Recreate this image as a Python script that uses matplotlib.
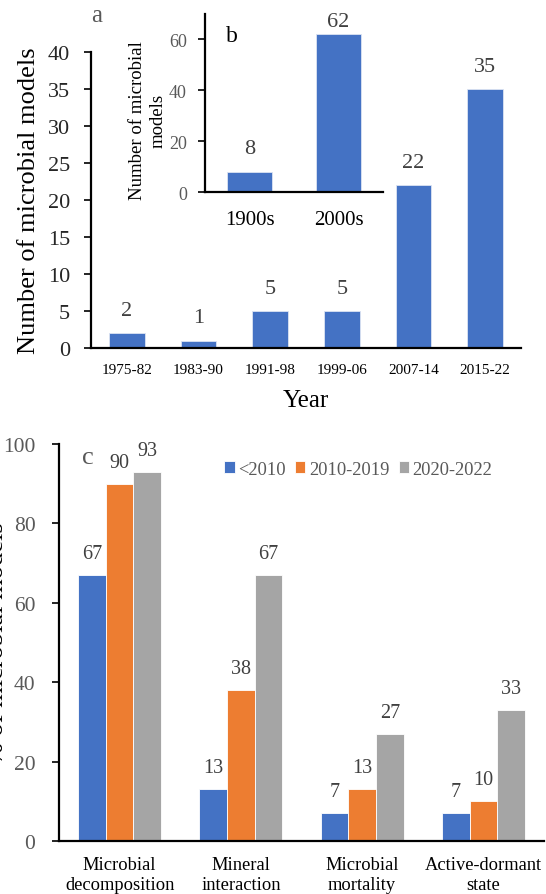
import matplotlib
matplotlib.use("Agg")
import matplotlib.pyplot as plt
import numpy as np

plt.rcParams["font.family"] = ["Liberation Serif", "DejaVu Serif"]

# Panel a: models per period
periods = ["1975-82", "1983-90", "1991-98", "1999-06", "2007-14", "2015-22"]
period_counts = [2, 1, 5, 5, 22, 35]

# Panel b: models per century
centuries = ["1900s", "2000s"]
century_counts = [8, 62]

# Panel c: share of models representing each process
processes = ["Microbial\ndecomposition", "Mineral\ninteraction",
             "Microbial\nmortality", "Active-dormant\nstate"]
eras = ["<2010", "2010-2019", "2020-2022"]
share_pre2010 = [67, 13, 7, 7]
share_2010s = [90, 38, 13, 10]
share_2020s = [93, 67, 27, 33]

BLUE = "#4472C4"
ORANGE = "#ED7D31"
GREY = "#A5A5A5"
LABEL_GREY = "#404040"
TICK_GREY = "#595959"

W, H = 546, 895
fig = plt.figure(figsize=(W / 100, H / 100), dpi=100)


def px_axes(left, top, right, bottom):
    return fig.add_axes([left / W, 1 - bottom / H, (right - left) / W, (bottom - top) / H])


def style_axes(ax, lw=1.6):
    for s in ("top", "right"):
        ax.spines[s].set_visible(False)
    for s in ("left", "bottom"):
        ax.spines[s].set_linewidth(lw)
        ax.spines[s].set_color("black")


# ---- panel a ----
ax = px_axes(91, 53, 521, 349)
style_axes(ax)
x = np.arange(len(periods))
ax.bar(x, period_counts, width=0.5, color=BLUE, edgecolor="#dce4f2", linewidth=0.6)
ax.set_xlim(-0.5, len(periods) - 0.5)
ax.set_ylim(0, 40)
ax.set_yticks(range(0, 41, 5))
ax.tick_params(axis="y", direction="out", length=5, width=1.2, pad=10, labelsize=16, labelcolor="#262626")
ax.set_xticks(x)
ax.set_xticklabels(periods)
ax.tick_params(axis="x", length=0, pad=11, labelsize=11)
for xi, v in zip(x, period_counts):
    ax.annotate(str(v), (xi, v), xytext=(0, 16.5), textcoords="offset points",
                ha="center", va="center", fontsize=16, color=LABEL_GREY)
ax.set_ylabel("Number of microbial models", fontsize=19, labelpad=6)
ax.set_xlabel("Year", fontsize=18, labelpad=9)
fig.text(97 / W, 1 - 16 / H, "a", fontsize=18, color=TICK_GREY, ha="center", va="center")

# ---- panel b (inset) ----
axb = px_axes(205, 15, 383, 193)
style_axes(axb)
xb = np.arange(len(centuries))
axb.bar(xb, century_counts, width=0.5, color=BLUE, edgecolor="#dce4f2", linewidth=0.6)
axb.set_xlim(-0.5, len(centuries) - 0.5)
axb.set_ylim(0, 70)
axb.set_yticks(range(0, 61, 20))
axb.tick_params(axis="y", direction="out", length=5, width=1.2, pad=8, labelsize=13, labelcolor=TICK_GREY)
axb.set_xticks(xb)
axb.set_xticklabels(centuries)
axb.tick_params(axis="x", length=0, pad=13, labelsize=15)
for xi, v, off in zip(xb, century_counts, [16.5, 9.5]):
    axb.annotate(str(v), (xi, v), xytext=(0, off), textcoords="offset points",
                 ha="center", va="center", fontsize=16, color=LABEL_GREY, annotation_clip=False)
fig.text(148 / W, 1 - 121 / H, "Number of microbial\nmodels", fontsize=13.5, rotation=90,
         ha="center", va="center", linespacing=1.3, multialignment="center")
fig.text(232 / W, 1 - 37 / H, "b", fontsize=17, color="black", ha="center", va="center")

# ---- panel c ----
axc = px_axes(59, 445, 544, 842)
style_axes(axc)
xc = np.arange(len(processes))
bw = 0.228
series = [share_pre2010, share_2010s, share_2020s]
colors = [BLUE, ORANGE, GREY]
for i, (vals, col, name) in enumerate(zip(series, colors, eras)):
    pos = xc + (i - 1) * bw
    axc.bar(pos, vals, width=bw, color=col, edgecolor="white", linewidth=0.6, label=name)
    for p, v in zip(pos, vals):
        axc.annotate(str(v), (p, v), xytext=(0, 15.5), textcoords="offset points",
                     ha="center", va="center", fontsize=14.5, color=LABEL_GREY)
axc.set_xlim(-0.5, len(processes) - 0.5)
axc.set_ylim(0, 100)
axc.set_yticks(range(0, 101, 20))
axc.tick_params(axis="y", direction="out", length=5, width=1.2, pad=12, labelsize=15.5, labelcolor=TICK_GREY)
axc.set_xticks(xc)
axc.set_xticklabels(processes, linespacing=1.2)
axc.tick_params(axis="x", length=0, pad=11, labelsize=13.3)
leg = axc.legend(loc="center", bbox_to_anchor=(0.617, 0.937), ncol=3, frameon=False,
                 handlelength=0.55, handleheight=0.55, handletextpad=0.2,
                 columnspacing=0.5, fontsize=13.3, borderaxespad=0)
for t in leg.get_texts():
    t.set_color(TICK_GREY)
fig.text(88 / W, 1 - 458 / H, "c", fontsize=19, color=TICK_GREY, ha="center", va="center")
fig.text(-3 / W, 1 - 643 / H, "% of microbial models", fontsize=19, rotation=90,
         ha="center", va="center")

fig.savefig("out.png", dpi=100)
